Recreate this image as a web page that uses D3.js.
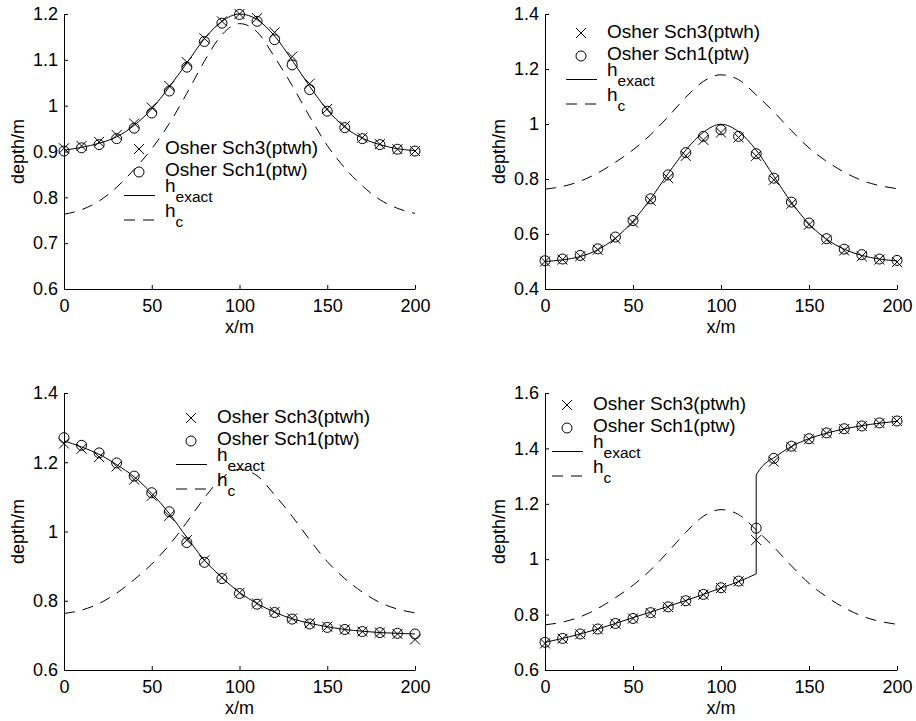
<!DOCTYPE html>
<html>
<head>
<meta charset="utf-8">
<script src="https://cdn.jsdelivr.net/npm/d3@7"></script>
<style>
  body { margin: 0; background: #fff; }
  svg text { font-family: "Liberation Sans", Arial, Helvetica, sans-serif; fill: #000; }
</style>
</head>
<body>
<div id="chart"></div>
<script>

// --> DATA

var xs = [0, 10, 20, 30, 40, 50, 60, 70, 80, 90, 100, 110, 120, 130, 140, 150, 160, 170, 180, 190, 200];
var xTicks = [0, 50, 100, 150, 200];

// critical depth, same in every panel
var hc = [0.763, 0.773, 0.792, 0.822, 0.861, 0.906, 0.961, 1.027, 1.097, 1.155, 1.179,
          1.161, 1.106, 1.044, 0.976, 0.913, 0.864, 0.825, 0.795, 0.776, 0.765];

// panel 1 (top left)
var sch3A  = [0.907, 0.912, 0.921, 0.936, 0.961, 0.996, 1.043, 1.095, 1.147, 1.184, 1.200,
              1.191, 1.160, 1.107, 1.048, 0.993, 0.955, 0.930, 0.916, 0.905, 0.901];
var sch1A  = [0.901, 0.908, 0.915, 0.928, 0.951, 0.984, 1.032, 1.084, 1.140, 1.180, 1.199,
              1.184, 1.144, 1.089, 1.035, 0.988, 0.952, 0.928, 0.915, 0.905, 0.901];
var exactA = [0.903, 0.909, 0.918, 0.932, 0.957, 0.993, 1.041, 1.093, 1.146, 1.184, 1.200,
              1.188, 1.152, 1.099, 1.042, 0.991, 0.953, 0.929, 0.915, 0.906, 0.902];
var yTicksA = [0.6, 0.7, 0.8, 0.9, 1, 1.1, 1.2];

// panel 2 (top right)
var sch3B  = [0.500, 0.507, 0.519, 0.543, 0.583, 0.642, 0.721, 0.803, 0.884, 0.942, 0.969,
              0.951, 0.884, 0.797, 0.710, 0.634, 0.579, 0.540, 0.519, 0.507, 0.498];
var sch1B  = [0.503, 0.509, 0.522, 0.546, 0.589, 0.649, 0.728, 0.815, 0.896, 0.955, 0.979,
              0.955, 0.892, 0.803, 0.716, 0.640, 0.583, 0.545, 0.525, 0.509, 0.504];
var exactB = [0.500, 0.506, 0.518, 0.543, 0.585, 0.647, 0.728, 0.820, 0.905, 0.970, 0.999,
              0.972, 0.905, 0.810, 0.715, 0.637, 0.581, 0.545, 0.522, 0.509, 0.502];
var yTicksB = [0.4, 0.6, 0.8, 1, 1.2, 1.4];

// panel 3 (bottom left)
var sch3C  = [1.254, 1.239, 1.215, 1.188, 1.150, 1.103, 1.045, 0.975, 0.917, 0.867, 0.823,
              0.792, 0.768, 0.749, 0.735, 0.725, 0.717, 0.711, 0.708, 0.704, 0.688];
var sch1C  = [1.271, 1.249, 1.227, 1.198, 1.160, 1.112, 1.057, 0.968, 0.911, 0.864, 0.821,
              0.790, 0.766, 0.747, 0.733, 0.723, 0.717, 0.711, 0.708, 0.706, 0.704];
var exactC = [1.262, 1.244, 1.223, 1.193, 1.158, 1.110, 1.052, 0.983, 0.917, 0.867, 0.824,
              0.792, 0.767, 0.748, 0.735, 0.725, 0.717, 0.712, 0.708, 0.706, 0.704];
var yTicksC = [0.6, 0.8, 1, 1.2, 1.4];

// panel 4 (bottom right) - exact solution has a jump at x = 120
var sch3D  = [0.696, 0.713, 0.729, 0.747, 0.767, 0.786, 0.806, 0.827, 0.849, 0.872, 0.896,
              0.920, 1.069, 1.352, 1.405, 1.433, 1.455, 1.470, 1.481, 1.491, 1.499];
var sch1D  = [0.700, 0.714, 0.730, 0.748, 0.768, 0.786, 0.807, 0.828, 0.850, 0.873, 0.897,
              0.921, 1.112, 1.364, 1.408, 1.435, 1.456, 1.471, 1.481, 1.492, 1.499];
var exactDLowX  = [0, 10, 20, 30, 40, 50, 60, 70, 80, 90, 100, 110, 120];
var exactDLow   = [0.700, 0.714, 0.730, 0.748, 0.768, 0.789, 0.809, 0.830, 0.851, 0.873, 0.896, 0.919, 0.947];
var exactDHighX = [120, 122, 125, 130, 140, 150, 160, 170, 180, 190, 200];
var exactDHigh  = [1.304, 1.324, 1.345, 1.366, 1.407, 1.435, 1.455, 1.470, 1.482, 1.491, 1.498];
var yTicksD = [0.6, 0.8, 1, 1.2, 1.4, 1.6];

var legendLabels = ["Osher Sch3(ptwh)", "Osher Sch1(ptw)"];

// --> LAYOUT

var width = 916,
    height = 721;

var panels = [
    { left: 64,  right: 415, top: 14,  bottom: 289, yTicks: yTicksA,
      sch3: sch3A, sch1: sch1A, exact: [[xs, exactA]], legend: { x: 139, y: 148 } },
    { left: 545, right: 897, top: 14,  bottom: 289, yTicks: yTicksB,
      sch3: sch3B, sch1: sch1B, exact: [[xs, exactB]], legend: { x: 581, y: 32 } },
    { left: 64,  right: 415, top: 393, bottom: 670, yTicks: yTicksC,
      sch3: sch3C, sch1: sch1C, exact: [[xs, exactC]], legend: { x: 191, y: 417 } },
    { left: 545, right: 897, top: 393, bottom: 670, yTicks: yTicksD,
      sch3: sch3D, sch1: sch1D, exact: [[exactDLowX, exactDLow], [exactDHighX, exactDHigh]],
      legend: { x: 567, y: 404 } }
];

var svg = d3.select("#chart").append("svg")
    .attr("width", width)
    .attr("height", height);

var crossPath = "M-5,-5L5,5M-5,5L5,-5";
var dash = "11,8";

panels.forEach(function (p) {
    var x = d3.scaleLinear().domain([0, 200]).range([p.left, p.right]);
    var yExt = d3.extent(p.yTicks);
    var y = d3.scaleLinear().domain(yExt).range([p.bottom, p.top]);

    var g = svg.append("g");

    var smooth = d3.line()
        .x(function (d) { return x(d[0]); })
        .y(function (d) { return y(d[1]); })
        .curve(d3.curveMonotoneX);
    var straight = d3.line()
        .x(function (d) { return x(d[0]); })
        .y(function (d) { return y(d[1]); });

    // critical depth, dashed
    g.append("path")
        .attr("d", smooth(d3.zip(xs, hc)))
        .attr("fill", "none")
        .attr("stroke", "#000")
        .attr("stroke-width", 1)
        .attr("stroke-dasharray", dash);

    // exact solution, one piece per branch, joined straight across a jump
    var pieces = p.exact.map(function (e) { return d3.zip(e[0], e[1]); });
    pieces.forEach(function (pts, i) {
        g.append("path")
            .attr("d", smooth(pts))
            .attr("fill", "none")
            .attr("stroke", "#000")
            .attr("stroke-width", 1);
        if (i > 0) {
            var prev = pieces[i - 1];
            g.append("path")
                .attr("d", straight([prev[prev.length - 1], pts[0]]))
                .attr("fill", "none")
                .attr("stroke", "#000")
                .attr("stroke-width", 1);
        }
    });

    // markers
    g.selectAll(".sch1").data(d3.zip(xs, p.sch1)).enter()
        .append("circle")
        .attr("cx", function (d) { return x(d[0]); })
        .attr("cy", function (d) { return y(d[1]); })
        .attr("r", 5)
        .attr("fill", "none")
        .attr("stroke", "#000")
        .attr("stroke-width", 1);

    g.selectAll(".sch3").data(d3.zip(xs, p.sch3)).enter()
        .append("path")
        .attr("transform", function (d) { return "translate(" + x(d[0]) + "," + y(d[1]) + ")"; })
        .attr("d", crossPath)
        .attr("fill", "none")
        .attr("stroke", "#000")
        .attr("stroke-width", 1);

    // axes, ticks pointing inward
    var xAxis = g.append("g")
        .attr("transform", "translate(0," + p.bottom + ")")
        .call(d3.axisBottom(x).tickValues(xTicks).tickSize(-4).tickSizeOuter(0).tickPadding(10));
    var yAxis = g.append("g")
        .attr("transform", "translate(" + p.left + ",0)")
        .call(d3.axisLeft(y).tickValues(p.yTicks).tickFormat(d3.format("~g"))
            .tickSize(-4).tickSizeOuter(0).tickPadding(6));

    [xAxis, yAxis].forEach(function (a) {
        a.attr("font-size", 18).attr("font-family", null);
        a.selectAll("path, line").attr("stroke", "#000");
    });

    g.append("text")
        .attr("x", (p.left + p.right) / 2)
        .attr("y", p.bottom + 44)
        .attr("text-anchor", "middle")
        .attr("font-size", 18)
        .text("x/m");

    g.append("text")
        .attr("transform", "translate(" + (p.left - 40) + "," + ((p.top + p.bottom) / 2) + ") rotate(-90)")
        .attr("text-anchor", "middle")
        .attr("font-size", 18)
        .text("depth/m");

    // legend (no box)
    var lx = p.legend.x, ly = p.legend.y;
    var leg = g.append("g");

    leg.append("path")
        .attr("transform", "translate(" + lx + "," + (ly + 1) + ")")
        .attr("d", crossPath)
        .attr("fill", "none")
        .attr("stroke", "#000");
    leg.append("circle")
        .attr("cx", lx).attr("cy", ly + 24).attr("r", 5)
        .attr("fill", "none").attr("stroke", "#000");
    leg.append("line")
        .attr("x1", lx - 15).attr("x2", lx + 16)
        .attr("y1", ly + 47.5).attr("y2", ly + 47.5)
        .attr("stroke", "#000");
    leg.append("line")
        .attr("x1", lx - 15).attr("x2", lx + 16)
        .attr("y1", ly + 72).attr("y2", ly + 72)
        .attr("stroke", "#000")
        .attr("stroke-dasharray", dash);

    legendLabels.forEach(function (t, i) {
        leg.append("text")
            .attr("x", lx + 26)
            .attr("y", ly + 6 + i * 22)
            .attr("font-size", 19)
            .text(t);
    });

    [["exact", 44], ["c", 69]].forEach(function (s) {
        var t = leg.append("text")
            .attr("x", lx + 26)
            .attr("y", ly + s[1])
            .attr("font-size", 19)
            .text("h");
        t.append("tspan")
            .attr("dy", 10)
            .attr("font-size", 15.5)
            .text(s[0]);
    });
});

</script>
</body>
</html>
